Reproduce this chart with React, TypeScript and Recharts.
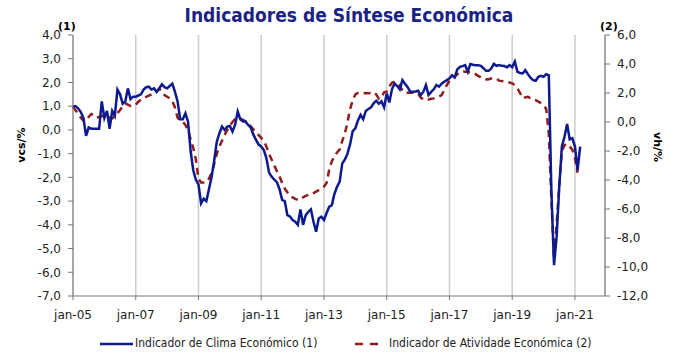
import {
  CartesianGrid,
  Line,
  LineChart,
  XAxis,
  YAxis,
} from 'recharts';

// Indicador de Clima Económico (1), mensal desde jan-05 (vcs/%)
const climaEconomico = [
  1.0, 1.0, 0.9, 0.75, 0.5, -0.25, 0.1, 0.05, 0.05, 0.05, 0.05, 1.2, // 2005
  0.5, 0.8, 0.05, 0.8, 0.6, 1.7, 1.5, 1.1, 1.2, 1.75, 1.3, 1.4, // 2006
  1.4, 1.45, 1.5, 1.7, 1.8, 1.82, 1.7, 1.75, 1.6, 1.75, 1.92, 1.8, // 2007
  1.75, 1.85, 1.95, 1.6, 1.2, 0.45, 0.45, 0.7, 0.35, -0.9, -1.7, -2.1, // 2008
  -2.3, -3.1, -2.9, -3.0, -2.5, -2.0, -1.3, -0.5, -0.14, 0.14, 0.0, 0.14, // 2009
  0.17, -0.07, 0.21, 0.77, 0.45, 0.35, 0.35, 0.21, 0.1, -0.2, -0.42, -0.62, // 2010
  -0.7, -0.85, -1.2, -1.8, -1.97, -2.1, -2.2, -2.5, -2.95, -3.0, -3.59, -3.65, // 2011
  -3.8, -3.87, -4.0, -3.35, -4.0, -3.6, -3.45, -3.35, -3.87, -4.29, -3.73, -3.66, // 2012
  -3.8, -3.5, -3.24, -3.17, -2.7, -2.4, -2.18, -1.41, -1.25, -1.0, -0.6, -0.05, // 2013
  0.07, 0.4, 0.63, 0.45, 0.8, 0.88, 0.95, 1.12, 1.23, 1.1, 1.2, 0.95, // 2014
  1.54, 1.16, 1.71, 1.96, 1.85, 1.71, 2.1, 1.95, 1.8, 1.61, 1.61, 1.62, // 2015
  1.65, 1.47, 1.6, 1.89, 1.47, 1.6, 1.71, 1.89, 1.82, 1.95, 2.03, 2.1, // 2016
  2.17, 2.3, 2.21, 2.55, 2.66, 2.69, 2.73, 2.45, 2.78, 2.75, 2.73, 2.73, // 2017
  2.7, 2.6, 2.49, 2.49, 2.59, 2.78, 2.7, 2.73, 2.7, 2.69, 2.64, 2.73, // 2018
  2.64, 2.88, 2.45, 2.4, 2.38, 2.52, 2.35, 2.2, 2.1, 2.07, 2.24, 2.28, // 2019
  2.24, 2.35, 2.3, -2.6, -5.7, -4.5, -2.4, -0.7, -0.3, 0.25, -0.4, -0.35, // 2020
  -0.7, -1.7, -0.7, // 2021
];

// Indicador de Atividade Económica (2), mensal desde jan-05 (vh/%)
const atividadeEconomica = [
  1.06, 0.8, 0.55, 0.3, 0.1, 0.05, 0.35, 0.55, 0.45, 0.3, 0.35, 0.4, // 2005
  0.48, 0.4, 0.3, 0.25, 0.4, 0.6, 0.83, 1.1, 1.29, 1.2, 1.1, 1.1, // 2006
  1.2, 1.4, 1.55, 1.65, 1.74, 1.82, 1.9, 2.0, 2.1, 2.3, 2.1, 1.85, // 2007
  1.74, 1.63, 1.45, 1.0, 0.3, 0.1, 0.02, -0.2, -0.55, -1.2, -1.8, -2.6, // 2008
  -3.9, -4.18, -4.18, -4.15, -3.9, -3.54, -2.9, -2.2, -1.7, -1.3, -0.9, -0.55, // 2009
  -0.25, 0.0, 0.2, 0.25, 0.25, 0.15, 0.05, -0.1, -0.3, -0.5, -0.7, -0.9, // 2010
  -1.1, -1.3, -1.7, -2.2, -2.6, -3.0, -3.4, -3.75, -4.2, -4.6, -4.85, -5.1, // 2011
  -5.2, -5.3, -5.38, -5.35, -5.2, -5.1, -5.03, -5.0, -4.9, -4.8, -4.7, -4.6, // 2012
  -4.45, -4.2, -3.3, -2.7, -2.4, -2.1, -1.9, -1.3, -0.8, 0.0, 0.9, 1.5, // 2013
  1.9, 2.0, 2.0, 2.0, 1.98, 1.98, 2.0, 2.05, 1.9, 1.6, 1.7, 2.05, // 2014
  2.1, 2.45, 2.7, 2.78, 2.65, 2.5, 2.2, 2.02, 2.02, 2.02, 2.02, 2.0, // 2015
  1.95, 1.7, 1.55, 1.52, 1.55, 1.6, 1.63, 1.7, 1.75, 1.86, 2.2, 2.55, // 2016
  2.85, 2.95, 3.1, 3.3, 3.4, 3.5, 3.47, 3.45, 3.42, 3.4, 3.3, 3.17, // 2017
  3.1, 3.0, 2.94, 2.95, 3.0, 3.0, 3.0, 2.85, 2.82, 2.8, 2.78, 2.72, // 2018
  2.67, 2.55, 2.32, 2.0, 1.63, 1.7, 1.74, 1.65, 1.56, 1.5, 1.4, 1.3, // 2019
  1.17, 0.9, -0.8, -5.4, -9.5, -7.0, -4.4, -2.0, -1.6, -1.5, -1.7, -1.9, // 2020
  -2.5, -3.5, // 2021
];

const xTicks = [0, 24, 48, 72, 96, 120, 144, 168, 192];
const xTickLabels = [
  'jan-05', 'jan-07', 'jan-09', 'jan-11', 'jan-13',
  'jan-15', 'jan-17', 'jan-19', 'jan-21',
];
const leftTicks = [-7, -6, -5, -4, -3, -2, -1, 0, 1, 2, 3, 4];
const rightTicks = [-12, -10, -8, -6, -4, -2, 0, 2, 4, 6];

const BLUE = '#0d1a8f';
const RED = '#931c1c';
const AXIS = '#777777';
const FONT = '"DejaVu Sans", sans-serif';
const FONT_NARROW = '"DejaVu Sans Condensed", "DejaVu Sans", sans-serif';

const data = climaEconomico.map((v, i) => ({
  m: i,
  clima: v,
  atividade: atividadeEconomica[i] ?? null,
}));

const fmt = (v: number) => v.toFixed(1).replace('.', ',');

export default function App() {
  const tick = { fontFamily: FONT, fontSize: 12, fill: '#222' };

  return (
    <div
      style={{
        position: 'absolute',
        left: 0,
        top: 0,
        width: 680,
        height: 357,
        background: '#fff',
      }}
    >
      <LineChart
        width={680}
        height={357}
        data={data}
        margin={{ top: 35, right: 0, bottom: 0, left: 0 }}
      >
        <CartesianGrid
          horizontal={false}
          stroke="#cccccc"
          strokeWidth={1.5}
        />
        <XAxis
          dataKey="m"
          type="number"
          domain={[0, 203.5]}
          ticks={xTicks}
          interval={0}
          height={61}
          tickSize={4}
          tickMargin={10}
          stroke={AXIS}
          tick={tick}
          tickFormatter={(m) => xTickLabels[xTicks.indexOf(m)] ?? ''}
        />
        <YAxis
          yAxisId="left"
          domain={[-7, 4]}
          ticks={leftTicks}
          interval={0}
          width={73}
          tickSize={5}
          tickMargin={7}
          stroke={AXIS}
          tick={tick}
          tickFormatter={fmt}
        />
        <YAxis
          yAxisId="right"
          orientation="right"
          domain={[-12, 6]}
          ticks={rightTicks}
          interval={0}
          width={75}
          tickSize={5}
          tickMargin={7}
          stroke={AXIS}
          tick={tick}
          tickFormatter={fmt}
        />
        <Line
          yAxisId="right"
          type="linear"
          dataKey="atividade"
          stroke={RED}
          strokeWidth={2.5}
          strokeDasharray="7 5"
          dot={false}
          isAnimationActive={false}
        />
        <Line
          yAxisId="left"
          type="linear"
          dataKey="clima"
          stroke={BLUE}
          strokeWidth={2.5}
          dot={false}
          isAnimationActive={false}
        />
      </LineChart>

      <div
        style={{
          position: 'absolute',
          left: 0,
          width: 680,
          top: 4,
          textAlign: 'center',
          paddingLeft: 18,
          boxSizing: 'border-box',
          fontFamily: FONT_NARROW,
          fontWeight: 'bold',
          fontSize: 19,
          color: '#1a2385',
        }}
      >
        Indicadores de Síntese Económica
      </div>
      <div style={{ position: 'absolute', left: 58, top: 20, fontFamily: FONT, fontWeight: 'bold', fontSize: 11 }}>
        (1)
      </div>
      <div style={{ position: 'absolute', left: 600, top: 20, fontFamily: FONT, fontWeight: 'bold', fontSize: 11 }}>
        (2)
      </div>
      <div
        style={{
          position: 'absolute',
          left: 21,
          top: 145,
          transform: 'translate(-50%, -50%) rotate(-90deg)',
          fontFamily: FONT,
          fontWeight: 'bold',
          fontSize: 11,
          whiteSpace: 'nowrap',
        }}
      >
        vcs/%
      </div>
      <div
        style={{
          position: 'absolute',
          left: 657,
          top: 147,
          transform: 'translate(-50%, -50%) rotate(90deg)',
          fontFamily: FONT,
          fontWeight: 'bold',
          fontSize: 11,
          whiteSpace: 'nowrap',
        }}
      >
        vh/%
      </div>

      <div
        style={{
          position: 'absolute',
          left: 0,
          top: 336,
          width: 680,
          height: 16,
          fontFamily: FONT_NARROW,
          fontSize: 12,
          color: '#222',
        }}
      >
        <svg style={{ position: 'absolute', left: 100, top: 2 }} width={34} height={12}>
          <line x1={0} y1={6} x2={33} y2={6} stroke={BLUE} strokeWidth={2.5} />
        </svg>
        <span style={{ position: 'absolute', left: 135, top: 0 }}>
          Indicador de Clima Económico (1)
        </span>
        <svg style={{ position: 'absolute', left: 355, top: 2 }} width={28} height={12}>
          <line x1={0} y1={6} x2={27} y2={6} stroke={RED} strokeWidth={2.5} strokeDasharray="8 7" />
        </svg>
        <span style={{ position: 'absolute', left: 389, top: 0 }}>
          Indicador de Atividade Económica (2)
        </span>
      </div>
    </div>
  );
}
